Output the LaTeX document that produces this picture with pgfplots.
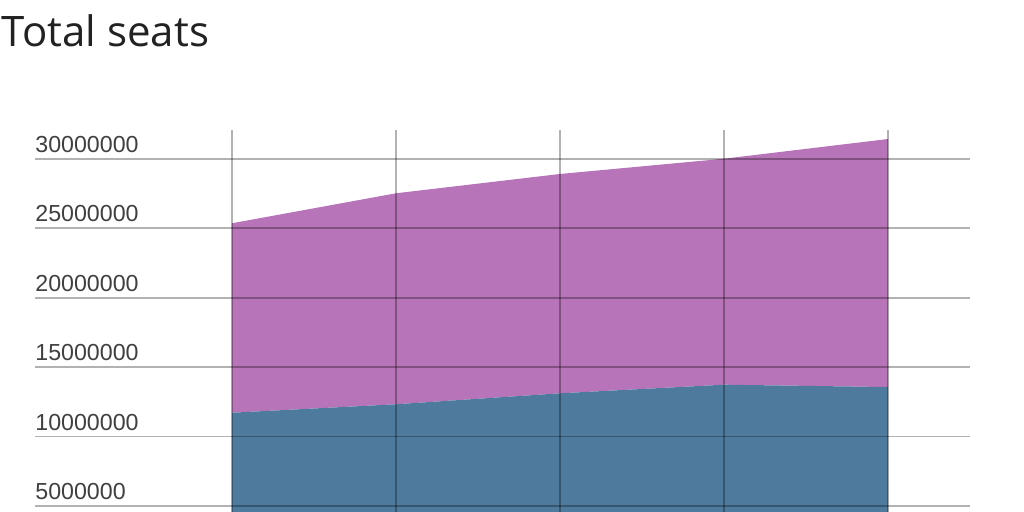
\documentclass[border=0pt]{standalone}
\usepackage{pgfplots}
\pgfplotsset{compat=1.18}
\usepackage{fontspec}
\setmainfont{Liberation Sans}
\newfontfamily\titlefont{Open Sans}
\definecolor{purp}{RGB}{184,116,184}
\definecolor{blu}{RGB}{78,122,158}
\definecolor{tickc}{RGB}{64,64,64}
\definecolor{titlec}{RGB}{34,34,34}
\begin{document}
\begin{tikzpicture}
\useasboundingbox (0,0) rectangle (512pt,256pt);
\clip (0,0) rectangle (512pt,256pt);
\node[anchor=base west, inner sep=0pt, font=\titlefont\fontsize{21pt}{24pt}\selectfont, text=titlec] at (0.8pt,232.8pt) {Total seats};
\begin{axis}[
  at={(17.5pt,-31.7pt)}, anchor=south west,
  width=467.5pt, height=222.7pt, scale only axis,
  xmin=-1.201, xmax=4.5, ymin=0, ymax=32090000,
  xtick={0,1,2,3,4}, xticklabels={},
  ytick={5000000,10000000,15000000,20000000,25000000,30000000},
  yticklabels={5000000,10000000,15000000,20000000,25000000,30000000},
  scaled y ticks=false,
  axis line style={draw=none},
  major tick length=0pt,
  grid=major,
  grid style={draw=black, opacity=0.3, line width=0.9pt},
  axis on top,
  yticklabel style={anchor=base west, inner sep=0pt, yshift=3.2pt, xshift=0pt, text=tickc, font=\fontsize{11.6pt}{13pt}\selectfont},
  stack plots=y,
]
\addplot[fill=blu, draw=none] coordinates {(0,11720000) (1,12330000) (2,13120000) (3,13740000) (4,13570000)} \closedcycle;
\addplot[fill=purp, draw=none] coordinates {(0,13650000) (1,15200000) (2,15800000) (3,16280000) (4,17870000)} \closedcycle;
\end{axis}
\end{tikzpicture}
\end{document}
